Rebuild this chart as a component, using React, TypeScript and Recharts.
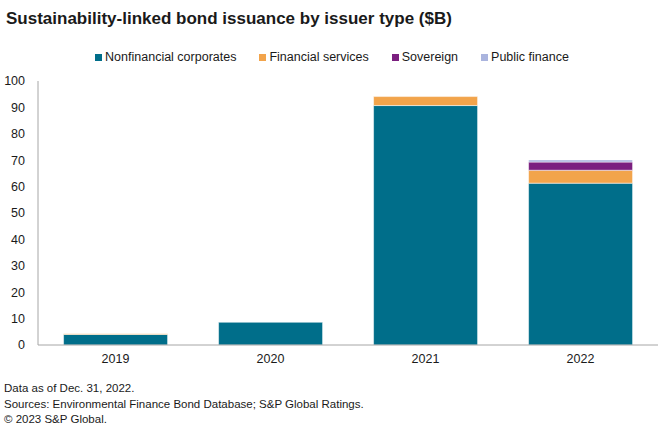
import { Bar, BarChart, XAxis, YAxis } from 'recharts';

const years = ['2019', '2020', '2021', '2022'];
const nonfinancial = [4.0, 8.6, 90.7, 61.3];
const financial = [0.3, 0, 3.4, 4.9];
const sovereign = [0, 0, 0, 3.1];
const publicFinance = [0, 0, 0, 0.8];
const yTicks = [0, 10, 20, 30, 40, 50, 60, 70, 80, 90, 100];

const series = [
  { key: 'nonfinancial', name: 'Nonfinancial corporates', color: '#006e8a' },
  { key: 'financial', name: 'Financial services', color: '#f2a44b' },
  { key: 'sovereign', name: 'Sovereign', color: '#7b1f7f' },
  { key: 'publicFinance', name: 'Public finance', color: '#aab4de' }
];

const data = years.map((year, i) => ({
  year,
  nonfinancial: nonfinancial[i],
  financial: financial[i],
  sovereign: sovereign[i],
  publicFinance: publicFinance[i]
}));

const font = '"Liberation Sans", Arial, sans-serif';

export default function App() {
  return (
    <div style={{ position: 'absolute', left: 0, top: 0, width: 660, height: 435, background: '#fff', fontFamily: font, color: '#1a1a1a' }}>
      <div style={{ position: 'absolute', left: 6, top: 9, fontSize: 17, fontWeight: 600, whiteSpace: 'nowrap' }}>
        Sustainability-linked bond issuance by issuer type ($B)
      </div>
      <div style={{ position: 'absolute', left: 0, top: 50, width: 664, display: 'flex', justifyContent: 'center', gap: 23, fontSize: 12.5 }}>
        {series.map((s) => (
          <div key={s.key} style={{ display: 'flex', alignItems: 'center' }}>
            <span style={{ width: 7, height: 7, background: s.color, marginRight: 3, display: 'inline-block' }} />
            {s.name}
          </div>
        ))}
      </div>
      <div style={{ position: 'absolute', left: 0, top: 0 }}>
        <BarChart width={660} height={375} data={data} margin={{ top: 81, right: 2, bottom: 0, left: 0 }} barCategoryGap="16.5%">
          <XAxis
            dataKey="year"
            height={30}
            stroke="#a6a6a6"
            tickLine={false}
            tick={{ fill: '#1a1a1a', fontSize: 12.5, fontFamily: font }}
            tickMargin={3}
          />
          <YAxis
            width={38}
            domain={[0, 100]}
            ticks={yTicks}
            stroke="#a6a6a6"
            tickLine={false}
            tick={{ fill: '#1a1a1a', fontSize: 12.5, fontFamily: font }}
            tickMargin={7}
            interval={0}
          />
          {series.map((s) => (
            <Bar key={s.key} dataKey={s.key} name={s.name} stackId="a" fill={s.color} stroke="#ffffff" strokeWidth={0.5} isAnimationActive={false} />
          ))}
        </BarChart>
      </div>
      <div style={{ position: 'absolute', left: 4, top: 381, fontSize: 11.5, lineHeight: '15.5px' }}>
        <div>Data as of Dec. 31, 2022.</div>
        <div>Sources: Environmental Finance Bond Database; S&amp;P Global Ratings.</div>
        <div>© 2023 S&amp;P Global.</div>
      </div>
    </div>
  );
}
